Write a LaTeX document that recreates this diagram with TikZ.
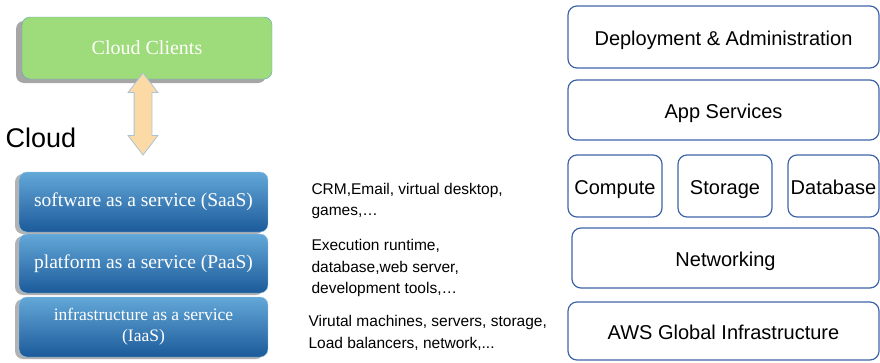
\documentclass[tikz,border=0pt]{standalone}
\usepackage{fontspec}
\setmainfont{Liberation Serif}
\setsansfont{Liberation Sans}
\usetikzlibrary{shapes.arrows,shadows}

\definecolor{greenbox}{HTML}{9EDB7A}
\definecolor{greenline}{HTML}{5FA6B8}
\definecolor{bluetop}{HTML}{63A8D8}
\definecolor{bluebot}{HTML}{1C5A9A}
\definecolor{arrowfill}{HTML}{FBDAA6}
\definecolor{arrowline}{HTML}{A9C3D6}
\definecolor{awsline}{HTML}{3E64A8}

\begin{document}
\begin{tikzpicture}[x=1pt,y=-1pt,
    layer/.style={rounded corners=8pt, minimum width=249pt, minimum height=60pt,
        top color=bluetop, bottom color=bluebot, draw=bluetop!70!white, thin,
        text=white, font=\fontsize{19.5}{21}\selectfont, align=center,
        drop shadow={shadow xshift=-4pt, shadow yshift=-2pt, fill=black, opacity=.3}},
    note/.style={anchor=west, align=left, font=\sffamily\fontsize{15.5}{21.5}\selectfont},
    awsbox/.style={draw=awsline, line width=1.2pt, rounded corners=9pt,
        minimum height=60pt, text height=20pt, text depth=4pt,
        font=\sffamily\fontsize{20}{22}\selectfont}
]
\useasboundingbox (0,0) rectangle (880,362);

% cloud model
\node[rounded corners=8pt, minimum width=250pt, minimum height=62pt,
    fill=greenbox, draw=greenline, thin, text=white,
    font=\fontsize{20}{22}\selectfont,
    drop shadow={shadow xshift=-6pt, shadow yshift=-4pt, fill=black, opacity=.35}]
    (clients) at (147,48) {Cloud Clients};
\node[double arrow, rotate=90, minimum height=82pt, minimum width=29pt,
    double arrow head extend=6pt, double arrow tip angle=75, inner sep=8.5pt,
    fill=arrowfill, draw=arrowline, thick] (link) at (143,114) {};
\node[anchor=west, font=\sffamily\fontsize{27}{30}\selectfont] (cloud) at (2,138) {Cloud};

\node[layer] (saas) at (143.5,202) {software as a service (SaaS)};
\node[layer, minimum height=59pt] (paas) at (143.5,263.5) {platform as a service (PaaS)};
\node[layer, font=\fontsize{17.5}{21}\selectfont] (iaas) at (143.5,327) {infrastructure as a service\\(IaaS)};

\node[note] (saasnote) at (308,201) {CRM,Email, virtual desktop,\\games,\dots};
\node[note] (paasnote) at (308,268) {Execution runtime,\\database,web server,\\development tools,\dots};
\node[note] (iaasnote) at (305,333) {Virutal machines, servers, storage,\\Load balancers, network,...};

% aws stack
\node[awsbox, minimum width=311pt, minimum height=62pt] (deploy) at (723.5,37) {Deployment \& Administration};
\node[awsbox, minimum width=311pt] (apps) at (723.5,110) {App Services};
\node[awsbox, minimum width=94pt, minimum height=62pt] (compute) at (615,186) {Compute};
\node[awsbox, minimum width=94pt, minimum height=62pt] (storage) at (725,186) {Storage};
\node[awsbox, minimum width=91pt, minimum height=62pt, inner xsep=0pt] (database) at (833.5,186) {Database};
\node[awsbox, minimum width=307pt] (network) at (725.5,258) {Networking};
\node[awsbox, minimum width=311pt, minimum height=58pt] (aws) at (723.5,331) {AWS Global Infrastructure};
\end{tikzpicture}
\end{document}
